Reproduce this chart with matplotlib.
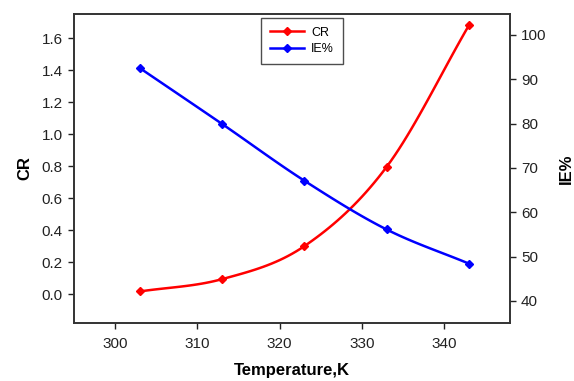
import matplotlib
matplotlib.use("Agg")
import matplotlib.pyplot as plt
import numpy as np

plt.rcParams["font.family"] = ["Liberation Sans", "DejaVu Sans"]

# ---------------------------------------------------------------------------
# Data
# ---------------------------------------------------------------------------
temperature = [303, 313, 323, 333, 343]
cr_values   = [0.017, 0.094, 0.30, 0.795, 1.679]
ie_values   = [92.5, 79.9, 67.1, 56.1, 48.4]

x_ticks  = [300, 310, 320, 330, 340]
cr_ticks = [0.0, 0.2, 0.4, 0.6, 0.8, 1.0, 1.2, 1.4, 1.6]
ie_ticks = [40, 50, 60, 70, 80, 90, 100]


def smooth(x, y, n=20):
    """Catmull-Rom rendering of the line between the measured points."""
    x = np.asarray(x, float)
    y = np.asarray(y, float)
    px = np.concatenate([[2 * x[0] - x[1]], x, [2 * x[-1] - x[-2]]])
    py = np.concatenate([[2 * y[0] - y[1]], y, [2 * y[-1] - y[-2]]])
    xs, ys = [], []
    t = np.linspace(0, 1, n, endpoint=False)
    for i in range(1, len(px) - 2):
        for arr, out in ((px, xs), (py, ys)):
            p0, p1, p2, p3 = arr[i - 1:i + 3]
            out.extend(0.5 * (2 * p1 + (-p0 + p2) * t
                              + (2 * p0 - 5 * p1 + 4 * p2 - p3) * t ** 2
                              + (-p0 + 3 * p1 - 3 * p2 + p3) * t ** 3))
    xs.append(x[-1])
    ys.append(y[-1])
    return xs, ys


fig = plt.figure(figsize=(5.74, 3.81), dpi=100)
ax = fig.add_axes([74 / 574, 1 - 323 / 381, (510 - 74) / 574, (323 - 14) / 381])
ax2 = ax.twinx()

LW, MS = 1.8, 4.5

sx, sy = smooth(temperature, cr_values)
ax.plot(sx, sy, color="#ff0000", lw=LW)
ax.plot(temperature, cr_values, ls="none", color="#ff0000", marker="D", ms=MS)
l1, = ax.plot([], [], color="#ff0000", lw=LW, marker="D", ms=MS, label="CR")

sx, sy = smooth(temperature, ie_values)
ax2.plot(sx, sy, color="#0000ff", lw=LW)
ax2.plot(temperature, ie_values, ls="none", color="#0000ff", marker="D", ms=MS)
l2, = ax2.plot([], [], color="#0000ff", lw=LW, marker="D", ms=MS, label="IE%")

ax.set_xlim(295, 348)
ax.set_ylim(-0.18, 1.75)
ax2.set_ylim(35, 104.7)
ax.set_xticks(x_ticks)
ax.set_yticks(cr_ticks)
ax.set_yticklabels([f"{v:.1f}" for v in cr_ticks])
ax2.set_yticks(ie_ticks)

for a in (ax, ax2):
    a.tick_params(direction="out", length=4, width=1, labelsize=11,
                  colors="#222222", pad=4)
    for s in a.spines.values():
        s.set_linewidth(1.2)
        s.set_color("#333333")
ax.tick_params(axis="x", pad=6)

ax.set_xlabel("Temperature,K", fontsize=12, fontweight="bold", labelpad=9)
ax.set_ylabel("CR", fontsize=12, fontweight="bold", labelpad=7)
ax2.set_ylabel("IE%", fontsize=12, fontweight="bold", labelpad=9)

leg = ax.legend(handles=[l1, l2], loc="upper left",
                bbox_to_anchor=((261 - 74) / 436, (323 - 18) / 309),
                borderaxespad=0, fontsize=9, frameon=True, fancybox=False,
                borderpad=0.7, handlelength=2.7, handletextpad=0.6,
                labelspacing=0.35)
leg.get_frame().set_edgecolor("#222222")
leg.get_frame().set_linewidth(1)

fig.savefig("out.png", dpi=100)
